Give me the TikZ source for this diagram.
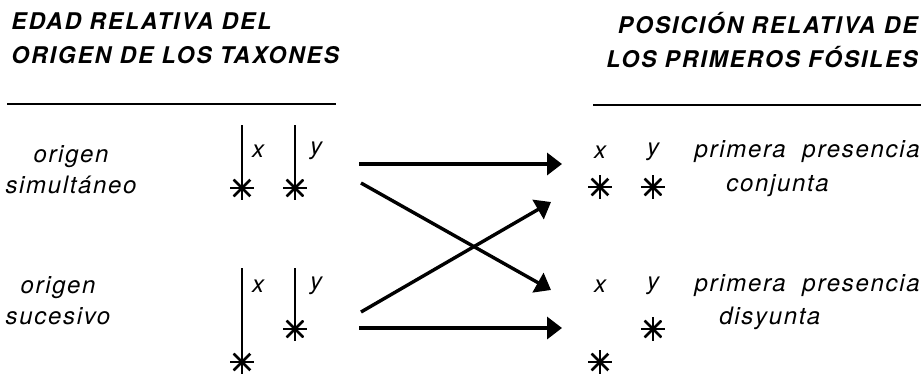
\documentclass[tikz,border=0pt]{standalone}
\usepackage{fontspec}
\setmainfont{TeX Gyre Heros}
\newfontfamily\headfont[LetterSpace=8]{TeX Gyre Heros}
\newfontfamily\bodyfont[LetterSpace=7, WordSpace=2]{TeX Gyre Heros}
\usetikzlibrary{positioning, arrows.meta}

\begin{document}
\begin{tikzpicture}[
        x=0.5pt, y=-0.5pt,
        every node/.style={inner sep=0pt},
        header/.style={font=\headfont\bfseries\itshape\fontsize{11.5}{17}\selectfont},
        txt/.style={font=\bodyfont\itshape\fontsize{12}{15.5}\selectfont, align=center},
        fossil/.style={circle, minimum size=12pt, inner sep=0pt,
            path picture={\foreach \a in {0,45,90,135}
                \draw[line width=1.3pt, shift={(path picture bounding box.center)}] (\a:6pt) -- (\a+180:6pt);}},
        lifeline/.style={line width=1.2pt},
        hrule/.style={line width=1pt},
        arrow/.style={-{Triangle[length=7.5pt, width=11pt]}, line width=1.7pt}
    ]
    \useasboundingbox (0,0) rectangle (924,376);

    % 1. Headers
    \node[header, align=left, anchor=north west] (agehead) at (11,12) {EDAD RELATIVA DEL\\ORIGEN DE LOS TAXONES};
    \node[header, align=right, anchor=north east] (fossilhead) at (918,12) {POSICIÓN RELATIVA DE\\LOS PRIMEROS FÓSILES};
    \draw[hrule] (7,104) -- (336,104);
    \draw[hrule] (593,105) -- (921,105);

    % 2. Left: origin of the taxa
    \node[txt] (simult) at (71,170) {origen\\simultáneo};
    \node[txt] (sucesivo) at (58,301) {origen\\sucesivo};

    \coordinate (topx1) at (242,125);
    \coordinate (topy1) at (295,125);
    \coordinate (topx2) at (242,268);
    \coordinate (topy2) at (295,268);
    \node[fossil] (ax1) at (242,188) {};
    \node[fossil] (ay1) at (295,188) {};
    \node[fossil] (ax2) at (242,362) {};
    \node[fossil] (ay2) at (295,329) {};
    \draw[lifeline] (topx1) -- (ax1.south);
    \draw[lifeline] (topy1) -- (ay1.south);
    \draw[lifeline] (topx2) -- (ax2.south);
    \draw[lifeline] (topy2) -- (ay2.south);
    \node[txt] (lx1) at (258,151) {x};
    \node[txt] (ly1) at (316,151) {y};
    \node[txt] (lx2) at (258,286) {x};
    \node[txt] (ly2) at (316,286) {y};

    % 3. Right: first fossils
    \node[txt] (rx1) at (600,152) {x};
    \node[txt] (ry1) at (653,152) {y};
    \node[fossil] (bx1) at (600,187) {};
    \node[fossil] (by1) at (653,187) {};
    \node[txt] (rx2) at (600,286) {x};
    \node[txt] (ry2) at (653,286) {y};
    \node[fossil] (by2) at (653,329) {};
    \node[fossil] (bx2) at (600,362) {};
    \node[txt, anchor=east] (conj1) at (920,152) {primera presencia};
    \node[txt, anchor=west] (conj2) at (726,186) {conjunta};
    \node[txt, anchor=east] (disy1) at (920,286) {primera presencia};
    \node[txt, anchor=west] (disy2) at (719,318) {disyunta};

    % 4. Arrows
    \coordinate (s1) at (359,164);
    \coordinate (e1) at (562,164);
    \coordinate (s2) at (361,183);
    \coordinate (e2) at (551,290);
    \coordinate (s3) at (361,312);
    \coordinate (e3) at (551,202);
    \coordinate (s4) at (359,328);
    \coordinate (e4) at (562,328);
    \draw[arrow] (s1) -- (e1);
    \draw[arrow] (s2) -- (e2);
    \draw[arrow] (s3) -- (e3);
    \draw[arrow] (s4) -- (e4);

\end{tikzpicture}
\end{document}
